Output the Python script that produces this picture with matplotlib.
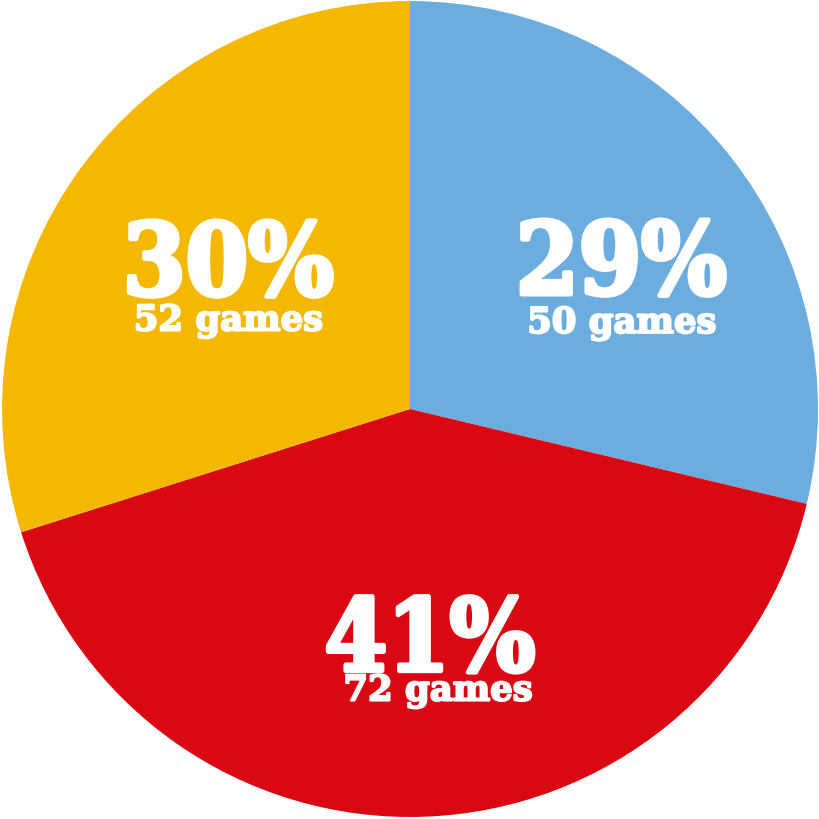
import numpy as np
import matplotlib.pyplot as plt
import matplotlib.patheffects as pe

# games per category, clockwise from 12 o'clock
labels = ["blue", "red", "yellow"]
games = [50, 72, 52]
pct_labels = ["29%", "41%", "30%"]
colors = ["#6CADDF", "#D90812", "#F5B800"]

# label nudges (dx, dy) from the wedge mid point, for the % and the games line
pct_offsets = [(0.047, -0.090), (0.027, -0.042), (0.039, -0.075)]
games_offsets = [(0.048, -0.185), (0.047, -0.115), (0.039, -0.162)]

fig = plt.figure(figsize=(8.2, 8.2), dpi=100)
ax = fig.add_axes([0, 0, 1, 1])

wedges, _ = ax.pie(games, colors=colors, startangle=90, counterclock=False,
                   radius=1.0, wedgeprops=dict(linewidth=0))

font = ["DejaVu Serif"]
# thicken the glyphs a bit, the original face is a very heavy slab serif
thick_big = [pe.withStroke(linewidth=3.5, foreground="white")]
thick_small = [pe.withStroke(linewidth=1.5, foreground="white")]

for w, pct, g, po, go in zip(wedges, pct_labels, games, pct_offsets, games_offsets):
    ang = np.deg2rad((w.theta1 + w.theta2) / 2)
    r = 0.6
    x, y = r * np.cos(ang), r * np.sin(ang)
    ax.text(x + po[0], y + po[1], pct, ha="center", va="baseline", color="white",
            fontsize=72, fontweight="heavy", fontstretch="condensed", family=font,
            path_effects=thick_big)
    ax.text(x + go[0], y + go[1], f"{g} games", ha="center", va="baseline",
            color="white", fontsize=25.5, fontweight="heavy", family=font,
            path_effects=thick_small)

ax.set_xlim(-1.005, 1.005)
ax.set_ylim(-1.005, 1.005)
ax.set_aspect("equal")
ax.axis("off")

fig.savefig("out.png", dpi=100, facecolor="white")
